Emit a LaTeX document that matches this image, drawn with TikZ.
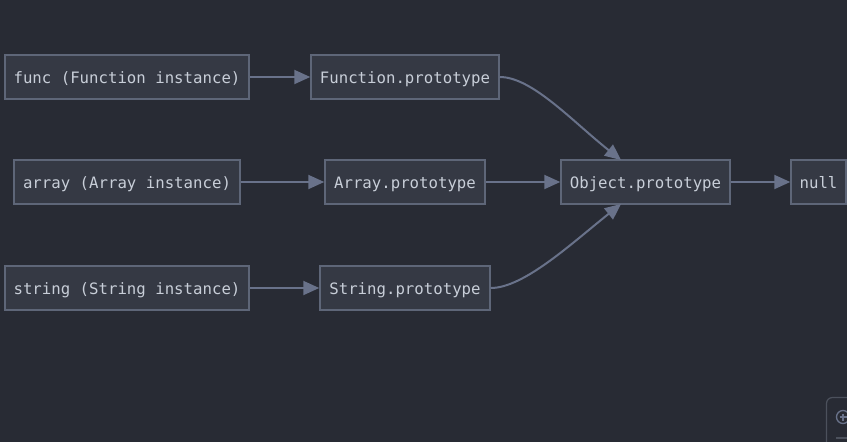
\documentclass[tikz,border=0pt]{standalone}
\usepackage{fontspec}
\setmonofont{DejaVu Sans Mono}
\usetikzlibrary{arrows.meta}
\definecolor{bgc}{HTML}{282B34}
\definecolor{boxfill}{HTML}{353944}
\definecolor{boxline}{HTML}{5E6678}
\definecolor{arrowc}{HTML}{69728A}
\definecolor{txtc}{HTML}{C8CED8}
\definecolor{uiline}{HTML}{4C515C}
\tikzset{
  box/.style={draw=boxline, fill=boxfill, line width=1.5pt, inner sep=0pt,
    minimum height=44pt, text=txtc, text height=12pt, text depth=0pt,
    font=\fontsize{15.7}{18}\selectfont\ttfamily},
  link/.style={draw=arrowc, line width=2pt, -{Triangle[length=16pt,width=14pt]}}
}
\begin{document}
\begin{tikzpicture}[x=1pt,y=-1pt]
\fill[bgc] (0,0) rectangle (847,442);
\useasboundingbox (0,0) rectangle (847,442);
\node[box, minimum width=244pt] (func) at (127,77) {func (Function instance)};
\node[box, minimum width=188pt] (funcp) at (405,77) {Function.prototype};
\node[box, minimum width=226pt] (arr) at (127,182) {array (Array instance)};
\node[box, minimum width=160pt] (arrp) at (405,182) {Array.prototype};
\node[box, minimum width=244pt] (str) at (127,288) {string (String instance)};
\node[box, minimum width=170pt] (strp) at (405,288) {String.prototype};
\node[box, minimum width=169pt] (obj) at (645.5,182) {Object.prototype};
\node[box, minimum width=55pt] (null) at (818.5,182) {null};
\coordinate (objtop) at (621,160);
\coordinate (objbot) at (621,204);
\draw[link] (func) -- (funcp);
\draw[link] (arr) -- (arrp);
\draw[link] (str) -- (strp);
\draw[link] (arrp) -- (obj);
\draw[link] (obj) -- (null);
\draw[link] (funcp.east) .. controls (532,77) and (572,121) .. (objtop);
\draw[link] (strp.east) .. controls (524,288) and (572,243) .. (objbot);
% corner control
\begin{scope}
\clip (0,0) rectangle (847,442);
\draw[uiline, line width=1.2pt, rounded corners=6pt] (826.5,460) -- (826.5,397.5) -- (870,397.5);
\draw[uiline, line width=1.2pt] (836,438) -- (860,438);
\draw[arrowc, line width=1.3pt] (843,417) circle (6.5);
\draw[arrowc, line width=1.2pt] (839.5,417) -- (846.5,417) (843,413.5) -- (843,420.5);
\end{scope}
\end{tikzpicture}
\end{document}
